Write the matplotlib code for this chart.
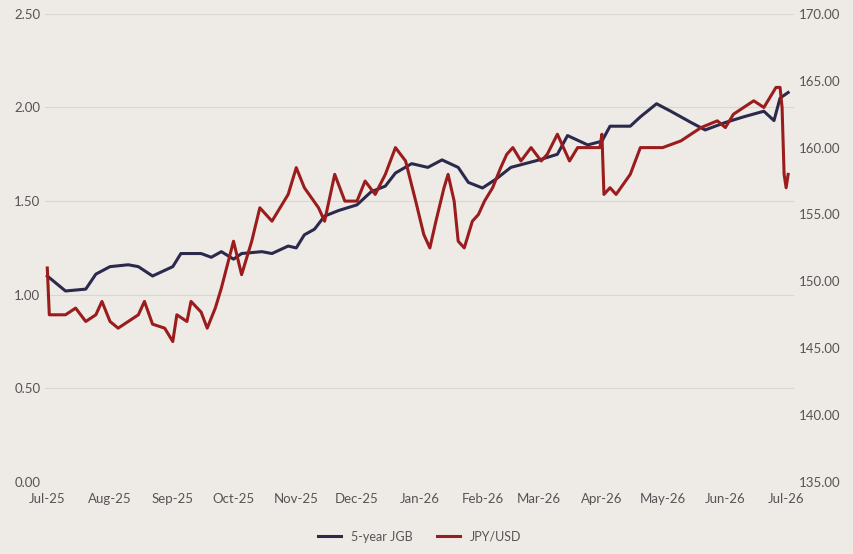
import matplotlib
matplotlib.use('Agg')
import matplotlib.pyplot as plt
import matplotlib.dates as mdates
import pandas as pd

plt.rcParams['font.family'] = ['Lato', 'DejaVu Sans']

# 5-year JGB yield (%)
jgb_dates = ['2025-07-01', '2025-07-10', '2025-07-20', '2025-07-25', '2025-08-01', '2025-08-10',
             '2025-08-15', '2025-08-22', '2025-08-28', '2025-09-01', '2025-09-05', '2025-09-15',
             '2025-09-20', '2025-09-25', '2025-10-01', '2025-10-05', '2025-10-15', '2025-10-20',
             '2025-10-28', '2025-11-01', '2025-11-05', '2025-11-10', '2025-11-15', '2025-11-22',
             '2025-12-01', '2025-12-08', '2025-12-15', '2025-12-20', '2025-12-28', '2026-01-05',
             '2026-01-12', '2026-01-20', '2026-01-25', '2026-02-01', '2026-02-08', '2026-02-15',
             '2026-03-01', '2026-03-10', '2026-03-15', '2026-03-25', '2026-04-01', '2026-04-05',
             '2026-04-15', '2026-04-20', '2026-04-28', '2026-05-05', '2026-05-15', '2026-05-22',
             '2026-06-01', '2026-06-10', '2026-06-20', '2026-06-25', '2026-06-28', '2026-07-02']
jgb_vals = [1.10, 1.02, 1.03, 1.11, 1.15, 1.16,
            1.15, 1.10, 1.13, 1.15, 1.22, 1.22,
            1.20, 1.23, 1.19, 1.22, 1.23, 1.22,
            1.26, 1.25, 1.32, 1.35, 1.42, 1.45,
            1.48, 1.55, 1.58, 1.65, 1.70, 1.68,
            1.72, 1.68, 1.60, 1.57, 1.62, 1.68,
            1.72, 1.75, 1.85, 1.80, 1.82, 1.90,
            1.90, 1.95, 2.02, 1.98, 1.92, 1.88,
            1.92, 1.95, 1.98, 1.93, 2.05, 2.08]

# JPY/USD
fx_dates = ['2025-07-01', '2025-07-02', '2025-07-10', '2025-07-15', '2025-07-20', '2025-07-25',
            '2025-07-28', '2025-08-01', '2025-08-05', '2025-08-10', '2025-08-15', '2025-08-18',
            '2025-08-22', '2025-08-28', '2025-09-01', '2025-09-03', '2025-09-08', '2025-09-10',
            '2025-09-15', '2025-09-18', '2025-09-22', '2025-09-25', '2025-10-01', '2025-10-05',
            '2025-10-10', '2025-10-14', '2025-10-20', '2025-10-28', '2025-11-01', '2025-11-05',
            '2025-11-12', '2025-11-15', '2025-11-20', '2025-11-25', '2025-12-01', '2025-12-05',
            '2025-12-10', '2025-12-15', '2025-12-20', '2025-12-25', '2025-12-30', '2026-01-03',
            '2026-01-06', '2026-01-09', '2026-01-13', '2026-01-15', '2026-01-18', '2026-01-20',
            '2026-01-23', '2026-01-27', '2026-01-30', '2026-02-02', '2026-02-06', '2026-02-10',
            '2026-02-13', '2026-02-16', '2026-02-20', '2026-02-25', '2026-03-02', '2026-03-05',
            '2026-03-10', '2026-03-13', '2026-03-16', '2026-03-20', '2026-03-25', '2026-03-31',
            '2026-04-01', '2026-04-02', '2026-04-05', '2026-04-08', '2026-04-15', '2026-04-20',
            '2026-05-01', '2026-05-10', '2026-05-20', '2026-05-28', '2026-06-01', '2026-06-05',
            '2026-06-10', '2026-06-15', '2026-06-20', '2026-06-26', '2026-06-28', '2026-06-29',
            '2026-06-30', '2026-07-01', '2026-07-02']
fx_vals = [151.0, 147.5, 147.5, 148.0, 147.0, 147.5,
           148.5, 147.0, 146.5, 147.0, 147.5, 148.5,
           146.8, 146.5, 145.5, 147.5, 147.0, 148.5,
           147.7, 146.5, 148.0, 149.5, 153.0, 150.5,
           153.0, 155.5, 154.5, 156.5, 158.5, 157.0,
           155.5, 154.5, 158.0, 156.0, 156.0, 157.5,
           156.5, 158.0, 160.0, 159.0, 156.0, 153.5,
           152.5, 154.5, 157.0, 158.0, 156.0, 153.0,
           152.5, 154.5, 155.0, 156.0, 157.0, 158.5,
           159.5, 160.0, 159.0, 160.0, 159.0, 159.5,
           161.0, 160.0, 159.0, 160.0, 160.0, 160.0,
           161.0, 156.5, 157.0, 156.5, 158.0, 160.0,
           160.0, 160.5, 161.5, 162.0, 161.5, 162.5,
           163.0, 163.5, 163.0, 164.5, 164.5, 163.0,
           158.0, 157.0, 158.0]

tick_labels = ['Jul-25', 'Aug-25', 'Sep-25', 'Oct-25', 'Nov-25', 'Dec-25', 'Jan-26',
               'Feb-26', 'Mar-26', 'Apr-26', 'May-26', 'Jun-26', 'Jul-26']

bg = '#EEEAE6'
navy = '#2B2A4C'
red = '#9B1C1C'

fig, ax = plt.subplots(figsize=(8.54, 5.54), dpi=100)
fig.patch.set_facecolor(bg)
ax.set_facecolor(bg)
plt.subplots_adjust(left=0.053, right=0.93, top=0.975, bottom=0.13)

ax.plot(pd.to_datetime(jgb_dates), jgb_vals, color=navy, lw=2.2, label='5-year JGB')
ax2 = ax.twinx()
ax2.plot(pd.to_datetime(fx_dates), fx_vals, color=red, lw=2.2, label='JPY/USD')

ax.set_ylim(0, 2.5)
ax.set_yticks([0, 0.5, 1.0, 1.5, 2.0, 2.5])
ax.set_yticklabels([f'{v:.2f}' for v in [0, 0.5, 1.0, 1.5, 2.0, 2.5]])
ax2.set_ylim(135, 170)
ax2.set_yticks(range(135, 171, 5))
ax2.set_yticklabels([f'{v:.2f}' for v in range(135, 171, 5)])

ticks = pd.date_range('2025-07-01', '2026-07-01', freq='MS')
ax.set_xticks(ticks)
ax.set_xticklabels(tick_labels)
ax.set_xlim(pd.Timestamp('2025-06-30'), pd.Timestamp('2026-07-05'))

ax.grid(axis='y', color='#DAD6D2', lw=0.8)
ax.set_axisbelow(True)
for a in (ax, ax2):
    for s in a.spines.values():
        s.set_visible(False)
    a.tick_params(length=0, labelsize=9.5, colors='#555555')
ax.tick_params(axis='x', pad=8)

h1, l1 = ax.get_legend_handles_labels()
h2, l2 = ax2.get_legend_handles_labels()
ax.legend(h1 + h2, l1 + l2, loc='upper center', bbox_to_anchor=(0.5, -0.08), ncol=2,
          frameon=False, fontsize=9, labelcolor='#555555', handlelength=1.8)

fig.savefig('out.png', dpi=100, facecolor=bg)
